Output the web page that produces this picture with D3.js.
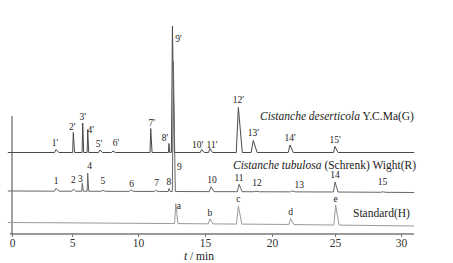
<!DOCTYPE html>
<html lang="en">
<head>
<meta charset="UTF-8">
<title>Chromatograms</title>
<script src="https://d3js.org/d3.v7.min.js"></script>
<style>
  body { margin: 0; background: #fff; }
  svg text { font-family: "Liberation Serif", "Times New Roman", serif !important; fill: #222; }
</style>
</head>
<body>
<svg width="453" height="263"></svg>
<script>
// retention times (min) and peak heights (response units)
const timeTicks = [0, 5, 10, 15, 20, 25, 30];

const labelsG = ["1'", "2'", "3'", "4'", "5'", "6'", "7'", "8'", "9'", "10'", "11'", "12'", "13'", "14'", "15'"];
const timesG = [3.67, 5.1, 5.81, 6.19, 7.12, 8.1, 10.95, 12.31, 12.57, 14.75, 15.37, 17.49, 18.6, 21.43, 25.0];
const heightsG = [3, 20, 29.5, 23, 2.5, 1.5, 24, 9, 126.5, 3, 4, 45, 12, 7.5, 6];
const widthsG = [0.35, 0.15, 0.12, 0.12, 0.3, 0.3, 0.15, 0.1, 0.22, 0.3, 0.3, 0.45, 0.45, 0.4, 0.35];

const labelsR = ["1", "2", "3", "4", "5", "6", "7", "8", "9", "10", "11", "12", "13", "14", "15"];
const timesR = [3.67, 5.1, 5.78, 6.19, 7.33, 9.45, 11.32, 12.31, 12.64, 15.45, 17.54, 18.8, 21.6, 25.0, 28.6];
const heightsR = [3, 2, 8, 18, 1, 1.5, 1, 3, 130, 5, 7.5, 0.5, 1, 10, 0.5];
const widthsR = [0.35, 0.3, 0.12, 0.12, 0.3, 0.3, 0.3, 0.15, 0.22, 0.35, 0.35, 0.4, 0.4, 0.35, 0.4];

const labelsH = ["a", "b", "c", "d", "e"];
const timesH = [12.82, 15.37, 17.49, 21.48, 25.05];
const heightsH = [20, 5, 18, 6, 20];
const widthsH = [0.25, 0.35, 0.4, 0.4, 0.4];

// baseline drift [time, response]
const driftG = [[0, 0], [31, 0]];
const driftR = [[0, 0], [25, -1], [31, -1.5]];
const driftH = [[0, 0], [12, -1], [21.5, -2], [31, -3.5]];

const nameG = ["Cistanche deserticola", " Y.C.Ma(G)"];
const nameR = ["Cistanche tubulosa", " (Schrenk) Wight(R)"];
const nameH = ["", "Standard(H)"];

// ---- layout ----
const svg = d3.select("svg");
const x = d3.scaleLinear().domain(timeTicks).range([12, 72, 138, 205, 272, 335, 401]);
const y = d3.scaleLinear().domain([0, 210]).range([234, 24]);

// label offsets (px) relative to the peak apex
const offG = [[-1, -4], [-1, -3], [0, -3], [3, 3], [-1, -3], [3, -5], [1, -3], [-4, -3], [6, 16], [-4, -2], [2, -1], [0, -5], [0, -5], [0, -4], [0, -4]];
const offR = [[0, -4], [0, -6], [-2, -1], [2, -4], [0, -6], [1, -3], [1, -4], [0, -3], [6, 108], [1, -4], [0, -3], [1, -5], [7, -3], [0, -4], [0, -7]];
const offH = [[3, 5], [0, -3], [0, -4], [0, -3], [0, -3]];

function trace(offset, drift, times, heights, widths) {
  const base = d3.scaleLinear().domain(drift.map(d => d[0])).range(drift.map(d => offset + d[1]));
  const pts = [[-0.35, base(-0.35)]];
  times.forEach((t, i) => {
    const w = widths[i];
    pts.push([t - 0.35 * w, base(t - 0.35 * w)]);
    pts.push([t, base(t) + heights[i]]);
    pts.push([t + 0.65 * w, base(t + 0.65 * w)]);
  });
  pts.push([31, base(31)]);
  return { pts, base };
}

const line = d3.line().x(d => x(d[0])).y(d => y(d[1]));

// x axis
const axis = svg.append("g").attr("transform", "translate(0,234)")
  .call(d3.axisBottom(x).tickValues(timeTicks).tickSize(3).tickSizeOuter(0).tickPadding(2));
axis.attr("font-family", null);
axis.select(".domain").attr("stroke", "#9a9a9a").attr("stroke-width", 2.2).attr("d", "M10,0H414");
axis.selectAll(".tick line").attr("stroke", "#777");
axis.selectAll(".tick text").attr("font-size", 11.5).style("fill", "#333");

// y axis stub
svg.append("line").attr("x1", 12).attr("x2", 12).attr("y1", 116).attr("y2", 234)
  .attr("stroke", "#444").attr("stroke-width", 1);

const series = [
  { off: 81.5, drift: driftG, t: timesG, h: heightsG, w: widthsG, lab: labelsG, lo: offG, color: "#4a4a4a" },
  { off: 43, drift: driftR, t: timesR, h: heightsR, w: widthsR, lab: labelsR, lo: offR, color: "#666" },
  { off: 11.5, drift: driftH, t: timesH, h: heightsH, w: widthsH, lab: labelsH, lo: offH, color: "#9a9a9a" }
];

series.forEach(s => {
  const tr = trace(s.off, s.drift, s.t, s.h, s.w);
  svg.append("path").attr("d", line(tr.pts)).attr("fill", "none")
    .attr("stroke", s.color).attr("stroke-width", 1).attr("stroke-linejoin", "miter");
  svg.append("g").selectAll("text").data(s.lab).join("text")
    .attr("x", (d, i) => x(s.t[i]) + s.lo[i][0])
    .attr("y", (d, i) => y(tr.base(s.t[i]) + s.h[i]) + s.lo[i][1])
    .attr("text-anchor", "middle")
    .attr("font-size", 9.5)
    .text(d => d);
});

// series names
function name(parts, xx, yy) {
  const t = svg.append("text").attr("x", xx).attr("y", yy).attr("font-size", 11.5);
  t.append("tspan").attr("font-style", "italic").text(parts[0]);
  t.append("tspan").text(parts[1]);
}
name(nameG, 260, 120);
name(nameR, 233, 169);
name(nameH, 353, 217);

// axis title
const xt = svg.append("text").attr("x", 199).attr("y", 260).attr("text-anchor", "middle").attr("font-size", 11.5);
xt.append("tspan").attr("font-style", "italic").text("t");
xt.append("tspan").text(" / min");
</script>
</body>
</html>
